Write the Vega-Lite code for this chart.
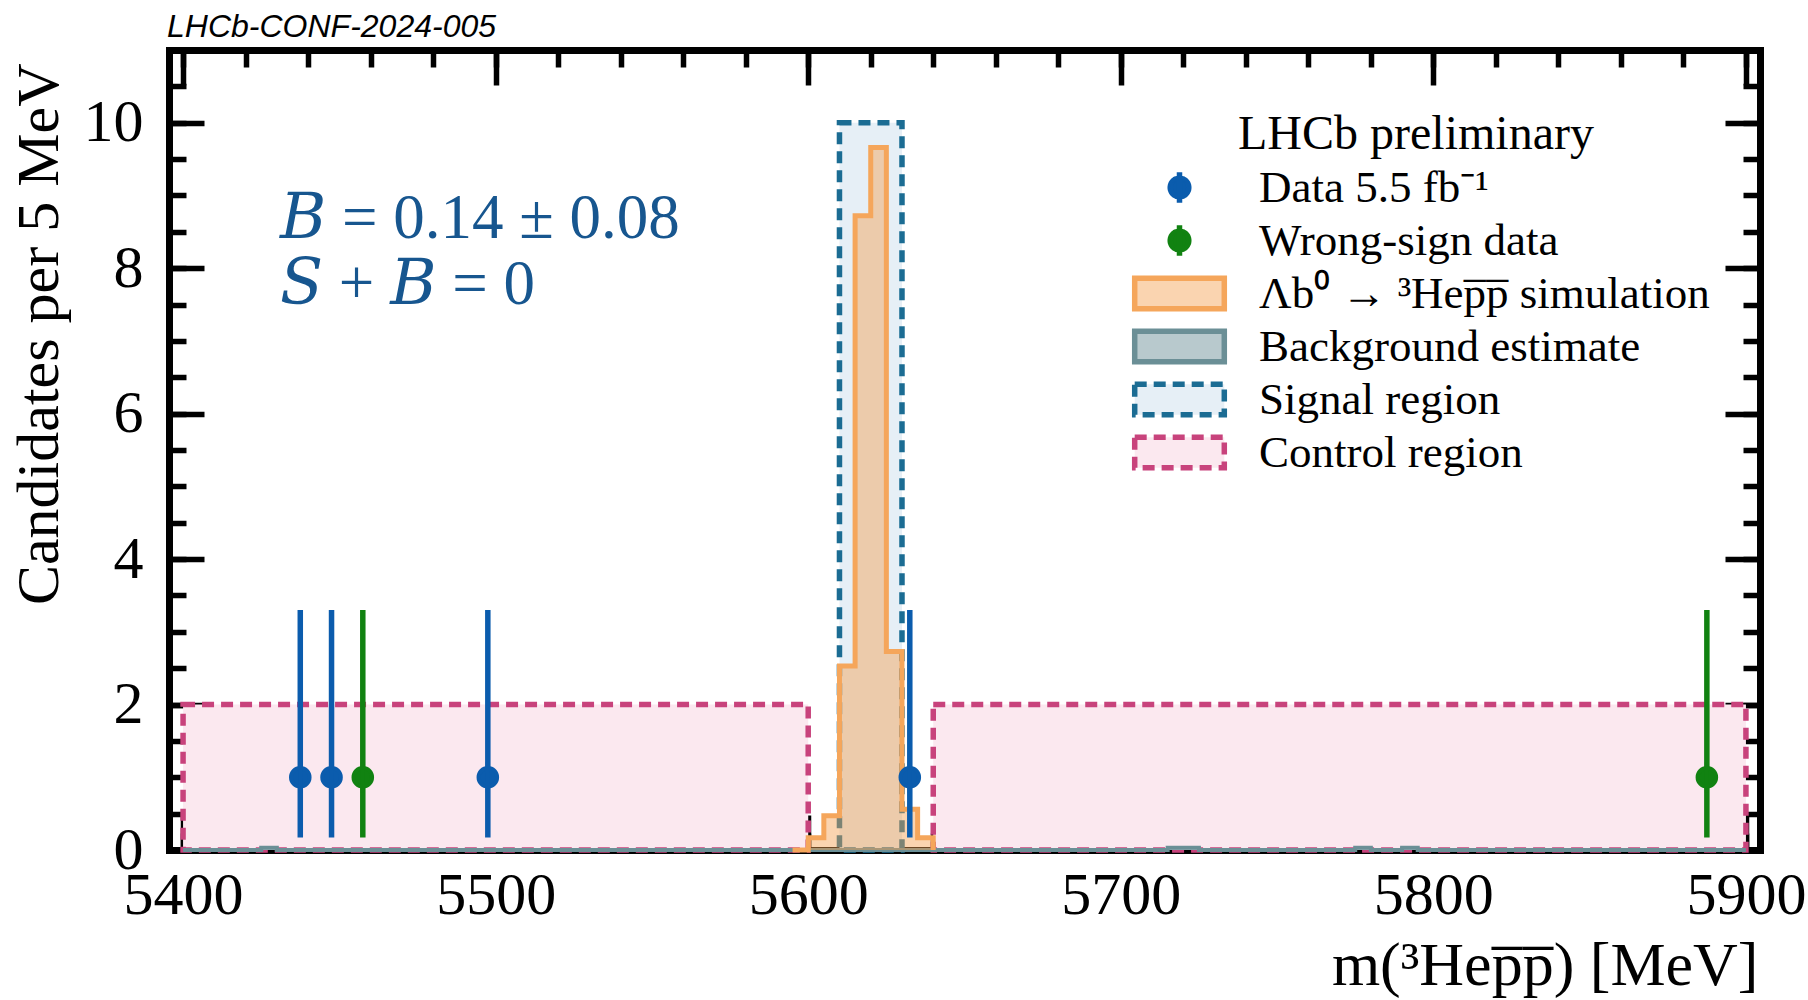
{
  "$schema": "https://vega.github.io/schema/vega-lite/v6.json",
  "width": 1591,
  "height": 800,
  "autosize": {"type": "none"},
  "padding": {"left": 169, "top": 50, "right": 48, "bottom": 150},
  "background": "white",
  "title": {"text": "LHCb-CONF-2024-005", "anchor": "start", "frame": "group", "font": "Liberation Sans", "fontStyle": "italic", "fontWeight": "normal", "fontSize": 32, "color": "black", "baseline": "alphabetic", "offset": 13, "dx": -2, "dy": 35},
  "config": {
    "view": {"stroke": null},
    "font": "Liberation Serif",
    "axis": {"grid": false, "domain": false, "ticks": true, "tickColor": "black", "tickWidth": 5.5, "labelFont": "Liberation Serif", "labelFontSize": 60, "labelColor": "black", "titleFont": "Liberation Serif", "titleFontSize": 60, "titleFontWeight": "normal", "titleColor": "black", "zindex": 1, "labelFlush": false, "labelOverlap": false},
    "legend": {"padding": 0, "titleFont": "Liberation Serif", "titleFontSize": 48, "titleFontWeight": "normal", "titleColor": "black", "titleAnchor": "middle", "titlePadding": 6, "titleLimit": 1000, "labelFont": "Liberation Serif", "labelFontSize": 45, "labelColor": "black", "labelLimit": 1000, "labelOffset": 57, "symbolSize": 1024, "symbolStrokeWidth": 5.5, "rowPadding": 0, "symbolOffset": 34}
  },
  "datasets": {
    "regions": [
      {"series": "Control region", "x1": 5400, "x2": 5600, "y1": 0, "y2": 2},
      {"series": "Control region", "x1": 5640, "x2": 5900, "y1": 0, "y2": 2},
      {"series": "Signal region", "x1": 5610, "x2": 5630, "y1": 0, "y2": 10}
    ],
    "bg": [
      {"series": "Background estimate", "x": 5400, "y": 0},
      {"series": "Background estimate", "x": 5425, "y": 0.03},
      {"series": "Background estimate", "x": 5430, "y": 0},
      {"series": "Background estimate", "x": 5715, "y": 0.03},
      {"series": "Background estimate", "x": 5725, "y": 0},
      {"series": "Background estimate", "x": 5775, "y": 0.03},
      {"series": "Background estimate", "x": 5780, "y": 0},
      {"series": "Background estimate", "x": 5790, "y": 0.03},
      {"series": "Background estimate", "x": 5795, "y": 0},
      {"series": "Background estimate", "x": 5900, "y": 0}
    ],
    "sim": [
      {"series": "Λb⁰ → ³Hep̅p̅ simulation", "x": 5595, "y": 0},
      {"series": "Λb⁰ → ³Hep̅p̅ simulation", "x": 5600, "y": 0.17},
      {"series": "Λb⁰ → ³Hep̅p̅ simulation", "x": 5605, "y": 0.47},
      {"series": "Λb⁰ → ³Hep̅p̅ simulation", "x": 5610, "y": 2.53},
      {"series": "Λb⁰ → ³Hep̅p̅ simulation", "x": 5615, "y": 8.72},
      {"series": "Λb⁰ → ³Hep̅p̅ simulation", "x": 5620, "y": 9.66},
      {"series": "Λb⁰ → ³Hep̅p̅ simulation", "x": 5625, "y": 2.73},
      {"series": "Λb⁰ → ³Hep̅p̅ simulation", "x": 5630, "y": 0.56},
      {"series": "Λb⁰ → ³Hep̅p̅ simulation", "x": 5635, "y": 0.17},
      {"series": "Λb⁰ → ³Hep̅p̅ simulation", "x": 5640, "y": 0}
    ],
    "points": [
      {"series": "Data 5.5 fb⁻¹", "x": 5437.5, "y": 1, "lo": 0.173, "hi": 3.3},
      {"series": "Data 5.5 fb⁻¹", "x": 5447.5, "y": 1, "lo": 0.173, "hi": 3.3},
      {"series": "Data 5.5 fb⁻¹", "x": 5497.5, "y": 1, "lo": 0.173, "hi": 3.3},
      {"series": "Data 5.5 fb⁻¹", "x": 5632.5, "y": 1, "lo": 0.173, "hi": 3.3},
      {"series": "Wrong-sign data", "x": 5457.5, "y": 1, "lo": 0.173, "hi": 3.3},
      {"series": "Wrong-sign data", "x": 5887.5, "y": 1, "lo": 0.173, "hi": 3.3}
    ],
    "notes": [
      {"label": "𝐵 = 0.14 ± 0.08", "x": 5431, "y": 8.68},
      {"label": "𝑆 + 𝐵 = 0", "x": 5431, "y": 7.77}
    ]
  },
  "layer": [
    {
      "data": {"name": "regions"},
      "mark": {"type": "rect", "strokeWidth": 5.5, "strokeDash": [12, 7]},
      "encoding": {
        "x": {"field": "x1", "type": "quantitative", "scale": {"domain": [5395.5, 5904.5], "nice": false, "zero": false},
          "axis": {"orient": "bottom", "values": [5400, 5500, 5600, 5700, 5800, 5900], "format": "d", "tickSize": -35, "labelPadding": 51, "domain": true, "domainColor": "black", "domainWidth": 7, "domainCap": "square", "title": "m(³Hep̅p̅) [MeV]", "titleFontSize": 62, "titleAlign": "right", "titleAnchor": "end", "titleX": 1589, "titleY": 134, "titleBaseline": "alphabetic"}},
        "x2": {"field": "x2"},
        "y": {"field": "y1", "type": "quantitative", "scale": {"domain": [0, 11], "nice": false, "zero": true},
          "axis": {"orient": "left", "values": [0, 2, 4, 6, 8, 10], "tickSize": -35, "labelPadding": 61, "domain": true, "domainColor": "black", "domainWidth": 7, "domainCap": "square", "title": "Candidates per 5 MeV", "titleAngle": -90, "titleAlign": "right", "titleAnchor": "end", "titleBaseline": "alphabetic", "titleX": -112, "titleY": 13}},
        "y2": {"field": "y2"},
        "fill": {"field": "series", "type": "nominal",
          "scale": {"domain": ["Data 5.5 fb⁻¹", "Wrong-sign data", "Λb⁰ → ³Hep̅p̅ simulation", "Background estimate", "Signal region", "Control region"],
            "range": ["#0b5cad", "#118211", "rgba(245,160,80,0.45)", "#b8c9cd", "#e6eff6", "#fbe8ef"]},
          "legend": {"title": "LHCb preliminary", "orient": "none", "legendX": 954, "legendY": 61,
            "encode": {"symbols": {"update": {"strokeDash": {"signal": "(datum.value === 'Signal region' || datum.value === 'Control region') ? [12, 7] : [1, 0]"}}}}}},
        "stroke": {"field": "series", "type": "nominal",
          "scale": {"domain": ["Data 5.5 fb⁻¹", "Wrong-sign data", "Λb⁰ → ³Hep̅p̅ simulation", "Background estimate", "Signal region", "Control region"],
            "range": ["#0b5cad", "#118211", "#f5a65b", "#6b8f96", "#1b6c93", "#c8437c"]},
          "legend": {"title": "LHCb preliminary", "orient": "none", "legendX": 954, "legendY": 61,
            "encode": {"symbols": {"update": {"strokeDash": {"signal": "(datum.value === 'Signal region' || datum.value === 'Control region') ? [12, 7] : [1, 0]"}}}}}}
      }
    },
    {
      "data": {"name": "bg"},
      "mark": {"type": "area", "interpolate": "step-after"},
      "encoding": {
        "x": {"field": "x", "type": "quantitative", "axis": {"orient": "bottom", "values": [5400, 5420, 5440, 5460, 5480, 5500, 5520, 5540, 5560, 5580, 5600, 5620, 5640, 5660, 5680, 5700, 5720, 5740, 5760, 5780, 5800, 5820, 5840, 5860, 5880, 5900], "tickSize": -17, "labels": false, "domain": false, "title": null}},
        "y": {"field": "y", "type": "quantitative", "axis": {"orient": "left", "values": [0.5, 1, 1.5, 2, 2.5, 3, 3.5, 4, 4.5, 5, 5.5, 6, 6.5, 7, 7.5, 8, 8.5, 9, 9.5, 10, 10.5], "tickSize": -17, "labels": false, "domain": false, "title": null}},
        "fill": {"field": "series", "type": "nominal"}
      }
    },
    {
      "data": {"name": "bg"},
      "mark": {"type": "line", "interpolate": "step-after", "strokeWidth": 4, "strokeJoin": "miter"},
      "encoding": {
        "x": {"field": "x", "type": "quantitative", "axis": {"orient": "top", "values": [5400, 5500, 5600, 5700, 5800, 5900], "tickSize": -35, "labels": false, "domain": true, "domainColor": "black", "domainWidth": 7, "domainCap": "square", "title": null}},
        "y": {"field": "y", "type": "quantitative", "axis": {"orient": "right", "values": [0, 2, 4, 6, 8, 10], "tickSize": -35, "labels": false, "domain": true, "domainColor": "black", "domainWidth": 7, "domainCap": "square", "title": null}},
        "stroke": {"field": "series", "type": "nominal"}
      }
    },
    {
      "data": {"name": "sim"},
      "mark": {"type": "area", "interpolate": "step-after"},
      "encoding": {
        "x": {"field": "x", "type": "quantitative", "axis": {"orient": "top", "values": [5400, 5420, 5440, 5460, 5480, 5500, 5520, 5540, 5560, 5580, 5600, 5620, 5640, 5660, 5680, 5700, 5720, 5740, 5760, 5780, 5800, 5820, 5840, 5860, 5880, 5900], "tickSize": -17, "labels": false, "domain": false, "title": null}},
        "y": {"field": "y", "type": "quantitative", "axis": {"orient": "right", "values": [0.5, 1, 1.5, 2, 2.5, 3, 3.5, 4, 4.5, 5, 5.5, 6, 6.5, 7, 7.5, 8, 8.5, 9, 9.5, 10, 10.5], "tickSize": -17, "labels": false, "domain": false, "title": null}},
        "fill": {"field": "series", "type": "nominal"}
      }
    },
    {
      "data": {"name": "sim"},
      "mark": {"type": "line", "interpolate": "step-after", "strokeWidth": 5, "strokeJoin": "miter"},
      "encoding": {
        "x": {"field": "x", "type": "quantitative", "axis": null},
        "y": {"field": "y", "type": "quantitative", "axis": null},
        "stroke": {"field": "series", "type": "nominal"}
      }
    },
    {
      "data": {"name": "points"},
      "mark": {"type": "rule", "strokeWidth": 5.5},
      "encoding": {
        "x": {"field": "x", "type": "quantitative", "axis": null},
        "y": {"field": "lo", "type": "quantitative", "axis": null},
        "y2": {"field": "hi"},
        "stroke": {"field": "series", "type": "nominal"}
      }
    },
    {
      "data": {"name": "points"},
      "mark": {"type": "point", "filled": true, "size": 1024, "strokeWidth": 4, "opacity": 1},
      "encoding": {
        "x": {"field": "x", "type": "quantitative", "axis": null},
        "y": {"field": "y", "type": "quantitative", "axis": null},
        "fill": {"field": "series", "type": "nominal"},
        "stroke": {"field": "series", "type": "nominal"},
        "shape": {"field": "series", "type": "nominal",
          "scale": {"domain": ["Data 5.5 fb⁻¹", "Wrong-sign data", "Λb⁰ → ³Hep̅p̅ simulation", "Background estimate", "Signal region", "Control region"],
            "range": ["M0,-0.96V0.96M-0.58,0A0.58,0.58 0 1,1 0.58,0A0.58,0.58 0 1,1 -0.58,0Z", "M0,-0.96V0.96M-0.58,0A0.58,0.58 0 1,1 0.58,0A0.58,0.58 0 1,1 -0.58,0Z", "M-2.8,-0.96H2.8V0.96H-2.8Z", "M-2.8,-0.96H2.8V0.96H-2.8Z", "M-2.8,-0.96H2.8V0.96H-2.8Z", "M-2.8,-0.96H2.8V0.96H-2.8Z"]},
          "legend": {"title": "LHCb preliminary", "orient": "none", "legendX": 954, "legendY": 61}}
      }
    },
    {
      "data": {"name": "notes"},
      "mark": {"type": "text", "align": "left", "baseline": "middle", "font": "Liberation Serif, DejaVu Serif", "fontSize": 63, "color": "#17568f"},
      "encoding": {
        "x": {"field": "x", "type": "quantitative", "axis": null},
        "y": {"field": "y", "type": "quantitative", "axis": null},
        "text": {"field": "label", "type": "nominal"}
      }
    }
  ],
  "resolve": {"axis": {"x": "independent", "y": "independent"}}
}
